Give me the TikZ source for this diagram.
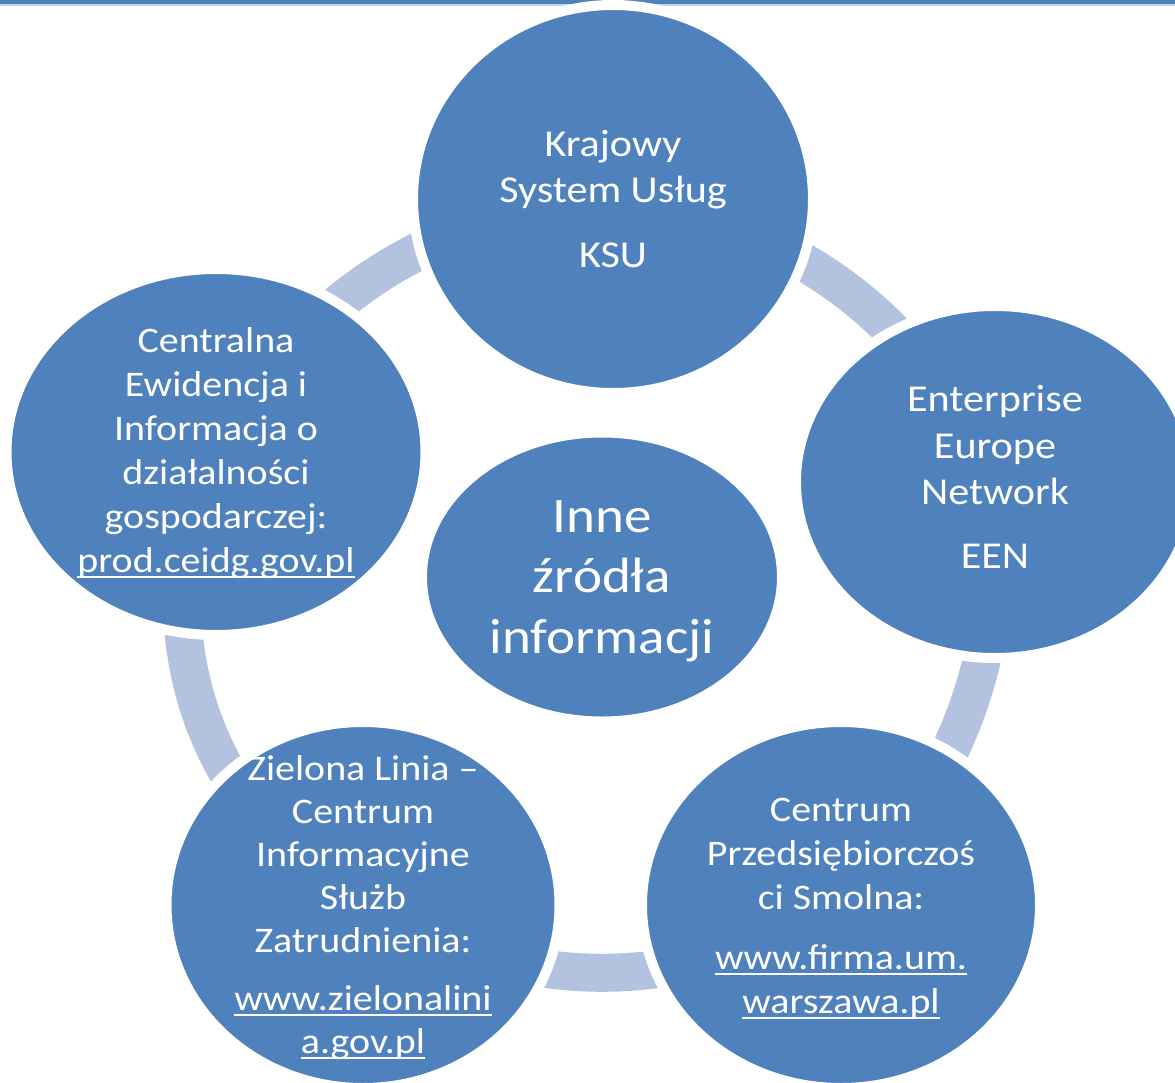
\documentclass[tikz,border=0pt]{standalone}
\usepackage{fontspec}
\setmainfont{Carlito}[FakeStretch=1.11]
\usetikzlibrary{shapes.geometric}
\pgfdeclarelayer{background}
\pgfsetlayers{background,main}
\definecolor{mainblue}{HTML}{4F81BD}
\definecolor{ringblue}{HTML}{B3C2DE}
\definecolor{lineblue}{HTML}{C5D3E8}
\newcommand\myul[1]{\begingroup\setbox0=\hbox{#1}\rlap{\rule[-5.5pt]{\wd0}{2pt}}\box0\endgroup}
\begin{document}
\begin{tikzpicture}[x=1pt,y=-1pt,
  bubble/.style={ellipse, fill=mainblue, draw=white, line width=10pt, inner sep=0pt},
  btext/.style={text=white, align=center, font=\fontsize{36}{44}\selectfont, inner sep=0pt, anchor=base},
  btexts/.style={text=white, align=center, font=\fontsize{36}{43}\selectfont, inner sep=0pt, anchor=base},
  btextl/.style={text=white, align=center, font=\fontsize{38}{46.5}\selectfont, inner sep=0pt, anchor=base},
  bigtext/.style={text=white, align=center, font=\fontsize{49.6}{60.5}\selectfont, inner sep=0pt, anchor=base},
  ring/.style={draw=ringblue, line width=38pt}]
\useasboundingbox (0,0) rectangle (1175,1082);
\clip (0,0) rectangle (1175,1082);
\fill[mainblue] (0,0) rectangle (1175,4);
\fill[lineblue] (0,4) rectangle (1175,5.5);
% bubbles
\node[bubble, minimum width=400pt, minimum height=388pt] (ksu) at (613,199) {};
\node[bubble, minimum width=398pt, minimum height=352pt] (een) at (995,482) {};
\node[bubble, minimum width=398pt, minimum height=366pt] (br) at (841,905) {};
\node[bubble, minimum width=393pt, minimum height=366pt] (bl) at (363,905) {};
\node[bubble, minimum width=419pt, minimum height=366pt] (ceidg) at (216,452) {};
\node[bubble, minimum width=360pt, minimum height=289pt] (inne) at (602,577) {};
% ring arcs
\begin{pgfonlayer}{background}
\draw[ring] (ksu.center) to[bend left=28] (een.center);
\draw[ring] (een.center) to[bend left=23] (br.center);
\draw[ring] (br.center) to[bend left=29] (bl.center);
\draw[ring] (bl.center) to[bend left=43] (ceidg.center);
\draw[ring] (ceidg.center) to[bend left=27] (ksu.center);
\end{pgfonlayer}
% texts (anchored at the baseline of the last line)
\node[btextl] (tksu) at (613,267) {Krajowy\\System Usług\\[18pt]KSU};
\node[btextl] (teen) at (995,568) {Enterprise\\Europe\\Network\\[17pt]EEN};
\node[btext] (tceidg) at (216,572) {Centralna\\Ewidencja i\\Informacja o\\działalności\\gospodarczej:\\\myul{prod.ceidg.gov.pl}};
\node[btext] (tbr) at (841,1013) {Centrum\\Przedsiębiorczoś\\ci Smolna:\\[16pt]\myul{www.firma.um.}\\\myul{warszawa.pl}};
\node[btexts] (tbl) at (363,1053) {Zielona Linia --\\Centrum\\Informacyjne\\Służb\\Zatrudnienia:\\[15pt]\myul{www.zielonalini}\\\myul{a.gov.pl}};
\node[bigtext] (tinne) at (602,653) {Inne\\źródła\\informacji};
\end{tikzpicture}
\end{document}
